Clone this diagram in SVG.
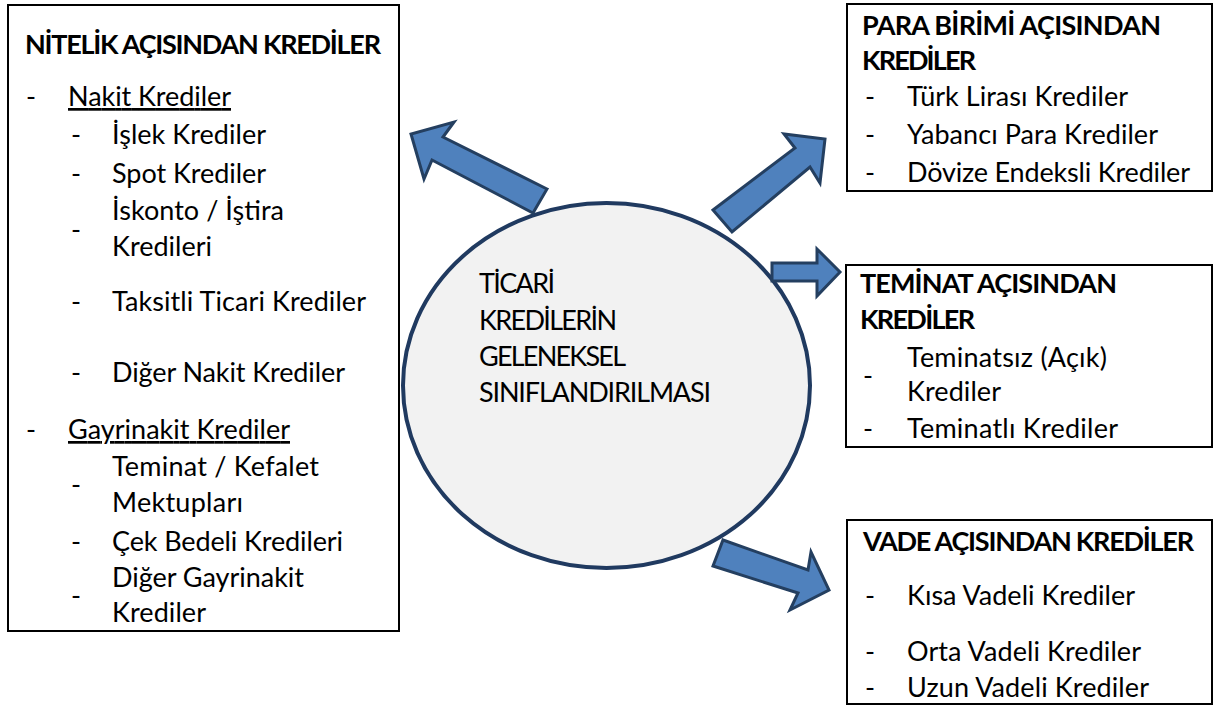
<svg xmlns="http://www.w3.org/2000/svg" width="1220" height="706" viewBox="0 0 1220 706">
<style>
.box{fill:none;stroke:#000000;stroke-width:2}
.t{font-family:Lato,"Open Sans","Noto Sans",sans-serif;font-size:27px;fill:#000000}
.b{font-weight:bold}
.u{text-decoration:underline}
.ell{fill:#f2f2f2;stroke:#203a60;stroke-width:4}
.arrow{fill:#4f81bd;stroke:#243f60;stroke-width:3;stroke-linejoin:miter}
</style>
<rect x="0" y="0" width="1220" height="706" fill="#ffffff"/>

<g id="node-nitelik">
<rect class="box" x="8" y="5" width="391" height="626"/>
<text class="t b" x="25" y="54" textLength="356">NİTELİK AÇISINDAN KREDİLER</text>
<text class="t" x="26" y="106">-</text>
<text class="t u" x="68" y="106" textLength="163">Nakit Krediler</text>
<text class="t" x="71" y="144">-</text>
<text class="t" x="112" y="144" textLength="154">İşlek Krediler</text>
<text class="t" x="71" y="183">-</text>
<text class="t" x="112" y="183" textLength="154">Spot Krediler</text>
<text class="t" x="71" y="239">-</text>
<text class="t" x="112" y="220" textLength="172">İskonto / İştira</text>
<text class="t" x="112" y="256" textLength="100">Kredileri</text>
<text class="t" x="71" y="311">-</text>
<text class="t" x="112" y="311" textLength="254">Taksitli Ticari Krediler</text>
<text class="t" x="71" y="382">-</text>
<text class="t" x="112" y="382" textLength="233">Diğer Nakit Krediler</text>
<text class="t" x="26" y="439">-</text>
<text class="t u" x="68" y="439" textLength="222">Gayrinakit Krediler</text>
<text class="t" x="71" y="494">-</text>
<text class="t" x="112" y="476" textLength="207">Teminat / Kefalet</text>
<text class="t" x="112" y="512" textLength="131">Mektupları</text>
<text class="t" x="71" y="551">-</text>
<text class="t" x="112" y="551" textLength="231">Çek Bedeli Kredileri</text>
<text class="t" x="71" y="605">-</text>
<text class="t" x="112" y="587" textLength="192">Diğer Gayrinakit</text>
<text class="t" x="112" y="622" textLength="94">Krediler</text>
</g>

<g id="node-para-birimi">
<rect class="box" x="847" y="4" width="365" height="187"/>
<text class="t b" x="862" y="35" textLength="299">PARA BİRİMİ AÇISINDAN</text>
<text class="t b" x="862" y="70" textLength="114">KREDİLER</text>
<text class="t" x="865" y="106">-</text>
<text class="t" x="907" y="106" textLength="221">Türk Lirası Krediler</text>
<text class="t" x="865" y="144">-</text>
<text class="t" x="907" y="144" textLength="251">Yabancı Para Krediler</text>
<text class="t" x="865" y="182">-</text>
<text class="t" x="907" y="182" textLength="283">Dövize Endeksli Krediler</text>
</g>

<g id="node-teminat">
<rect class="box" x="846" y="265" width="366" height="182"/>
<text class="t b" x="860" y="293" textLength="257">TEMİNAT AÇISINDAN</text>
<text class="t b" x="860" y="329" textLength="115">KREDİLER</text>
<text class="t" x="863" y="385">-</text>
<text class="t" x="907" y="367" textLength="200">Teminatsız (Açık)</text>
<text class="t" x="907" y="401" textLength="94">Krediler</text>
<text class="t" x="863" y="438">-</text>
<text class="t" x="907" y="438" textLength="211">Teminatlı Krediler</text>
</g>

<g id="node-vade">
<rect class="box" x="847" y="520" width="365" height="184"/>
<text class="t b" x="863" y="551" textLength="331">VADE AÇISINDAN KREDİLER</text>
<text class="t" x="865" y="605">-</text>
<text class="t" x="907" y="605" textLength="228">Kısa Vadeli Krediler</text>
<text class="t" x="865" y="661">-</text>
<text class="t" x="907" y="661" textLength="234">Orta Vadeli Krediler</text>
<text class="t" x="865" y="697">-</text>
<text class="t" x="907" y="697" textLength="242">Uzun Vadeli Krediler</text>
</g>

<g id="node-center">
<ellipse class="ell" cx="606.5" cy="385.5" rx="203.5" ry="182.5"/>
<text class="t" x="479" y="293" textLength="76">TİCARİ</text>
<text class="t" x="479" y="330" textLength="138">KREDİLERİN</text>
<text class="t" x="479" y="366" textLength="147">GELENEKSEL</text>
<text class="t" x="479" y="402" textLength="232">SINIFLANDIRILMASI</text>
</g>

<g id="connectors">
<polygon class="arrow" points="547,189 443,137 454,122 411,134 424,179 432,160 533,213"/>
<polygon class="arrow" points="713,210 795,148 784,134 825,139 820,183 810,167 732,232"/>
<polygon class="arrow" points="772,263 817,263 817,249 840,272 817,296 817,281 772,281"/>
<polygon class="arrow" points="723,540 808,570 811,552 829,590 790,610 798,593 713,566"/>
</g>
</svg>
